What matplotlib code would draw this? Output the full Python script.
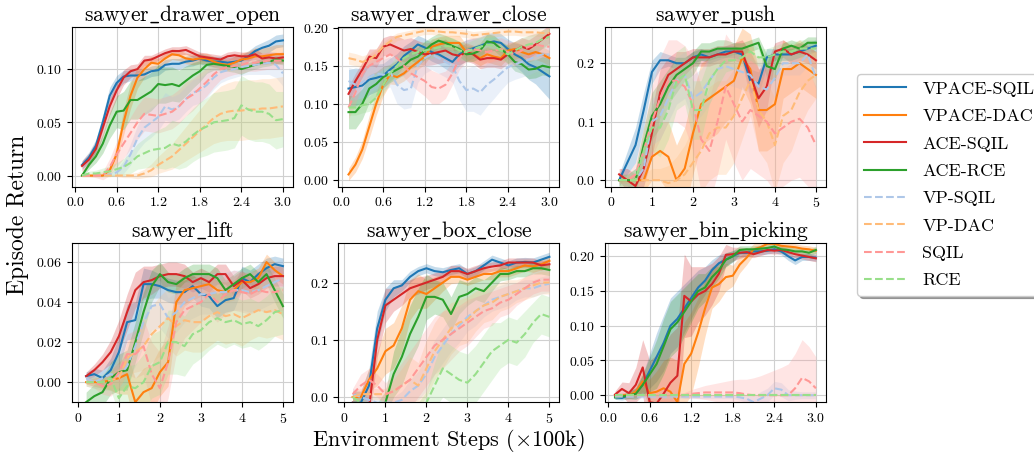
import numpy as np
import matplotlib
matplotlib.use("Agg")
import matplotlib.pyplot as plt

plt.rcParams['font.family'] = 'serif'
plt.rcParams['font.serif'] = ['cmr10']
plt.rcParams['mathtext.fontset'] = 'cm'
plt.rcParams['axes.formatter.use_mathtext'] = True

methods = ["VPACE-SQIL", "VPACE-DAC", "ACE-SQIL", "ACE-RCE", "VP-SQIL", "VP-DAC", "SQIL", "RCE"]
colors = ["tab:blue", "tab:orange", "tab:red", "tab:green", "#aec7e8", "#ffbb78", "#ff9896", "#98df8a"]
styles = ["-", "-", "-", "-", "--", "--", "--", "--"]

tasks = ["sawyer_drawer_open", "sawyer_drawer_close", "sawyer_push",
         "sawyer_lift", "sawyer_box_close", "sawyer_bin_picking"]

# environment steps (x100k)
steps_short = np.round(np.arange(1, 31) * 0.1, 1)
steps_long = np.round(np.arange(1, 26) * 0.2, 1)

# ---------------- sawyer_drawer_open ----------------
drawer_open_mean = [
    [0.010, 0.017, 0.028, 0.050, 0.075, 0.087, 0.093, 0.094, 0.094, 0.095, 0.098, 0.099, 0.104, 0.105, 0.105,
     0.107, 0.108, 0.110, 0.108, 0.107, 0.107, 0.106, 0.107, 0.108, 0.112, 0.117, 0.120, 0.122, 0.126, 0.127],
    [0.000, 0.000, 0.000, 0.000, 0.005, 0.020, 0.050, 0.075, 0.092, 0.100, 0.106, 0.105, 0.110, 0.114, 0.113,
     0.110, 0.109, 0.110, 0.110, 0.107, 0.105, 0.104, 0.106, 0.109, 0.110, 0.112, 0.112, 0.113, 0.114, 0.114],
    [0.009, 0.015, 0.025, 0.045, 0.065, 0.080, 0.092, 0.098, 0.100, 0.108, 0.109, 0.112, 0.115, 0.117, 0.117,
     0.118, 0.115, 0.112, 0.111, 0.110, 0.109, 0.112, 0.113, 0.112, 0.112, 0.114, 0.110, 0.111, 0.110, 0.111],
    [0.000, 0.010, 0.018, 0.030, 0.047, 0.060, 0.061, 0.071, 0.071, 0.075, 0.079, 0.086, 0.085, 0.086, 0.084,
     0.089, 0.094, 0.098, 0.104, 0.105, 0.104, 0.103, 0.102, 0.100, 0.102, 0.104, 0.106, 0.107, 0.109, 0.108],
    [0.000, 0.000, 0.000, 0.000, 0.001, 0.003, 0.008, 0.020, 0.035, 0.045, 0.050, 0.055, 0.065, 0.062, 0.065,
     0.072, 0.078, 0.080, 0.085, 0.092, 0.097, 0.099, 0.100, 0.102, 0.103, 0.104, 0.105, 0.106, 0.104, 0.096],
    [0.000, 0.000, 0.000, 0.000, 0.000, 0.000, 0.000, 0.000, 0.000, 0.002, 0.005, 0.010, 0.014, 0.018, 0.024,
     0.030, 0.036, 0.042, 0.048, 0.054, 0.058, 0.060, 0.061, 0.061, 0.062, 0.062, 0.063, 0.063, 0.064, 0.065],
    [0.000, 0.000, 0.000, 0.000, 0.008, 0.020, 0.030, 0.040, 0.050, 0.058, 0.057, 0.056, 0.058, 0.060, 0.065,
     0.072, 0.076, 0.082, 0.088, 0.095, 0.100, 0.102, 0.103, 0.104, 0.106, 0.106, 0.107, 0.108, 0.108, 0.108],
    [0.000, 0.002, 0.002, 0.003, 0.004, 0.006, 0.008, 0.012, 0.018, 0.021, 0.024, 0.025, 0.026, 0.030, 0.028,
     0.032, 0.038, 0.043, 0.046, 0.050, 0.051, 0.052, 0.054, 0.066, 0.062, 0.060, 0.060, 0.058, 0.052, 0.053],
]
drawer_open_std = [
    [0.004, 0.005, 0.006, 0.007, 0.008, 0.007, 0.006, 0.005, 0.005, 0.005, 0.005, 0.005, 0.005, 0.005, 0.005,
     0.005, 0.005, 0.005, 0.005, 0.005, 0.005, 0.005, 0.005, 0.005, 0.005, 0.005, 0.005, 0.006, 0.006, 0.006],
    [0.001, 0.001, 0.001, 0.001, 0.003, 0.008, 0.012, 0.012, 0.010, 0.008, 0.006, 0.005, 0.005, 0.005, 0.005,
     0.005, 0.005, 0.005, 0.005, 0.005, 0.005, 0.005, 0.006, 0.006, 0.007, 0.008, 0.008, 0.008, 0.009, 0.009],
    [0.005, 0.006, 0.007, 0.008, 0.008, 0.008, 0.007, 0.006, 0.005, 0.005, 0.004, 0.004, 0.004, 0.004, 0.004,
     0.004, 0.004, 0.004, 0.004, 0.004, 0.004, 0.004, 0.004, 0.004, 0.004, 0.005, 0.005, 0.005, 0.005, 0.005],
    [0.001, 0.004, 0.006, 0.009, 0.012, 0.015, 0.018, 0.018, 0.018, 0.018, 0.018, 0.018, 0.017, 0.016, 0.015,
     0.014, 0.012, 0.010, 0.008, 0.006, 0.005, 0.005, 0.005, 0.005, 0.004, 0.004, 0.004, 0.004, 0.004, 0.004],
    [0.001, 0.001, 0.001, 0.001, 0.002, 0.003, 0.006, 0.010, 0.012, 0.014, 0.014, 0.013, 0.013, 0.012, 0.012,
     0.012, 0.012, 0.012, 0.012, 0.011, 0.010, 0.009, 0.008, 0.008, 0.008, 0.009, 0.010, 0.011, 0.012, 0.012],
    [0.001, 0.001, 0.001, 0.001, 0.001, 0.001, 0.002, 0.002, 0.003, 0.004, 0.006, 0.008, 0.010, 0.012, 0.014,
     0.016, 0.018, 0.020, 0.022, 0.024, 0.026, 0.027, 0.028, 0.028, 0.028, 0.028, 0.028, 0.028, 0.028, 0.028],
    [0.001, 0.001, 0.002, 0.004, 0.008, 0.012, 0.014, 0.015, 0.016, 0.016, 0.016, 0.016, 0.016, 0.016, 0.016,
     0.016, 0.015, 0.014, 0.013, 0.012, 0.010, 0.009, 0.008, 0.008, 0.008, 0.008, 0.008, 0.008, 0.008, 0.008],
    [0.001, 0.002, 0.003, 0.004, 0.005, 0.006, 0.008, 0.010, 0.012, 0.014, 0.016, 0.018, 0.020, 0.022, 0.022,
     0.024, 0.025, 0.026, 0.027, 0.028, 0.028, 0.028, 0.028, 0.028, 0.028, 0.028, 0.028, 0.028, 0.027, 0.026],
]

# ---------------- sawyer_drawer_close ----------------
drawer_close_mean = [
    [0.120, 0.122, 0.124, 0.132, 0.134, 0.137, 0.145, 0.152, 0.163, 0.170, 0.178, 0.174, 0.168, 0.165, 0.160,
     0.155, 0.165, 0.170, 0.173, 0.176, 0.180, 0.182, 0.180, 0.172, 0.165, 0.160, 0.152, 0.148, 0.142, 0.136],
    [0.007, 0.020, 0.040, 0.070, 0.100, 0.125, 0.138, 0.135, 0.140, 0.148, 0.155, 0.162, 0.175, 0.178, 0.180,
     0.180, 0.180, 0.168, 0.165, 0.160, 0.165, 0.162, 0.160, 0.170, 0.172, 0.168, 0.165, 0.168, 0.165, 0.160],
    [0.113, 0.130, 0.145, 0.162, 0.160, 0.175, 0.178, 0.174, 0.170, 0.172, 0.168, 0.165, 0.166, 0.168, 0.170,
     0.165, 0.163, 0.168, 0.165, 0.158, 0.160, 0.160, 0.158, 0.165, 0.170, 0.175, 0.172, 0.178, 0.185, 0.192],
    [0.089, 0.089, 0.100, 0.120, 0.126, 0.135, 0.140, 0.145, 0.150, 0.158, 0.162, 0.170, 0.178, 0.183, 0.180,
     0.176, 0.172, 0.165, 0.166, 0.170, 0.182, 0.180, 0.172, 0.165, 0.155, 0.152, 0.145, 0.146, 0.150, 0.148],
    [0.130, 0.125, 0.128, 0.135, 0.140, 0.138, 0.142, 0.125, 0.118, 0.120, 0.150, 0.160, 0.165, 0.160, 0.155,
     0.150, 0.130, 0.118, 0.120, 0.115, 0.125, 0.132, 0.140, 0.148, 0.152, 0.155, 0.158, 0.162, 0.165, 0.165],
    [0.160, 0.158, 0.155, 0.158, 0.165, 0.175, 0.182, 0.188, 0.190, 0.192, 0.194, 0.196, 0.196, 0.195, 0.194,
     0.194, 0.193, 0.192, 0.190, 0.191, 0.192, 0.193, 0.194, 0.195, 0.195, 0.194, 0.194, 0.194, 0.193, 0.193],
    [0.095, 0.115, 0.140, 0.150, 0.155, 0.160, 0.165, 0.160, 0.150, 0.140, 0.135, 0.130, 0.122, 0.120, 0.125,
     0.140, 0.160, 0.170, 0.172, 0.170, 0.168, 0.170, 0.172, 0.168, 0.165, 0.170, 0.175, 0.178, 0.176, 0.175],
    [0.095, 0.095, 0.098, 0.100, 0.108, 0.125, 0.140, 0.150, 0.160, 0.165, 0.168, 0.170, 0.172, 0.174, 0.176,
     0.175, 0.170, 0.168, 0.172, 0.175, 0.178, 0.176, 0.170, 0.165, 0.170, 0.175, 0.178, 0.180, 0.185, 0.188],
]
drawer_close_std = [
    [0.025, 0.025, 0.022, 0.020, 0.018, 0.016, 0.015, 0.014, 0.013, 0.012, 0.012, 0.012, 0.012, 0.013, 0.014,
     0.015, 0.015, 0.014, 0.013, 0.012, 0.012, 0.012, 0.012, 0.013, 0.015, 0.018, 0.020, 0.022, 0.026, 0.030],
    [0.008, 0.010, 0.012, 0.015, 0.015, 0.015, 0.012, 0.010, 0.010, 0.010, 0.010, 0.010, 0.010, 0.010, 0.010,
     0.010, 0.010, 0.010, 0.010, 0.010, 0.010, 0.010, 0.010, 0.010, 0.010, 0.010, 0.010, 0.010, 0.010, 0.010],
    [0.010, 0.010, 0.010, 0.010, 0.012, 0.012, 0.012, 0.015, 0.015, 0.015, 0.015, 0.015, 0.015, 0.015, 0.015,
     0.012, 0.012, 0.012, 0.012, 0.012, 0.012, 0.012, 0.012, 0.012, 0.012, 0.012, 0.012, 0.012, 0.012, 0.012],
    [0.022, 0.022, 0.020, 0.018, 0.016, 0.014, 0.012, 0.012, 0.012, 0.012, 0.012, 0.012, 0.010, 0.010, 0.010,
     0.010, 0.010, 0.010, 0.010, 0.010, 0.010, 0.010, 0.010, 0.012, 0.012, 0.012, 0.012, 0.012, 0.012, 0.012],
    [0.018, 0.020, 0.020, 0.020, 0.020, 0.020, 0.020, 0.025, 0.025, 0.025, 0.022, 0.020, 0.020, 0.020, 0.020,
     0.022, 0.025, 0.028, 0.030, 0.030, 0.028, 0.025, 0.022, 0.020, 0.020, 0.020, 0.020, 0.020, 0.020, 0.020],
    [0.008, 0.008, 0.008, 0.008, 0.008, 0.006, 0.006, 0.005, 0.005, 0.005, 0.005, 0.005, 0.005, 0.005, 0.005,
     0.005, 0.005, 0.005, 0.005, 0.005, 0.005, 0.005, 0.005, 0.005, 0.005, 0.005, 0.005, 0.005, 0.005, 0.005],
    [0.015, 0.015, 0.015, 0.015, 0.015, 0.015, 0.015, 0.015, 0.015, 0.015, 0.018, 0.020, 0.022, 0.020, 0.018,
     0.015, 0.015, 0.015, 0.015, 0.015, 0.015, 0.015, 0.015, 0.015, 0.015, 0.015, 0.015, 0.015, 0.015, 0.015],
    [0.010, 0.010, 0.010, 0.010, 0.010, 0.012, 0.012, 0.012, 0.012, 0.012, 0.012, 0.012, 0.012, 0.012, 0.012,
     0.012, 0.012, 0.012, 0.012, 0.012, 0.012, 0.012, 0.012, 0.012, 0.012, 0.012, 0.012, 0.012, 0.012, 0.012],
]

# ---------------- sawyer_push ----------------
push_mean = [
    [0.000, 0.030, 0.060, 0.120, 0.185, 0.205, 0.205, 0.200, 0.200, 0.210, 0.215, 0.210, 0.215,
     0.220, 0.220, 0.215, 0.170, 0.165, 0.210, 0.215, 0.215, 0.215, 0.220, 0.225, 0.230],
    [0.000, 0.000, 0.000, 0.000, 0.040, 0.050, 0.040, 0.000, 0.020, 0.080, 0.130, 0.140, 0.150,
     0.160, 0.170, 0.210, 0.190, 0.120, 0.120, 0.130, 0.190, 0.190, 0.200, 0.190, 0.180],
    [0.010, 0.000, -0.010, 0.020, 0.080, 0.150, 0.180, 0.190, 0.200, 0.210, 0.210, 0.210, 0.215,
     0.215, 0.220, 0.220, 0.180, 0.140, 0.160, 0.220, 0.225, 0.215, 0.220, 0.215, 0.205],
    [0.000, 0.000, 0.000, 0.060, 0.110, 0.130, 0.160, 0.180, 0.190, 0.200, 0.220, 0.220, 0.225,
     0.225, 0.225, 0.225, 0.230, 0.235, 0.195, 0.190, 0.225, 0.230, 0.225, 0.235, 0.235],
    [0.000, 0.000, 0.000, 0.020, 0.100, 0.110, 0.140, 0.170, 0.180, 0.140, 0.150, 0.170, 0.190,
     0.195, 0.190, 0.185, 0.180, 0.160, 0.155, 0.175, 0.200, 0.200, 0.200, 0.215, 0.175],
    [0.000, 0.000, 0.000, 0.000, 0.000, 0.000, -0.005, 0.000, 0.010, 0.030, 0.050, 0.080, 0.090,
     0.090, 0.110, 0.140, 0.170, 0.120, 0.100, 0.060, 0.110, 0.120, 0.150, 0.170, 0.180],
    [0.000, 0.000, 0.010, 0.050, 0.100, 0.140, 0.170, 0.170, 0.160, 0.130, 0.070, 0.050, 0.100,
     0.160, 0.130, 0.100, 0.120, 0.110, 0.100, 0.080, 0.090, 0.100, 0.105, 0.090, 0.060],
    [0.000, 0.000, 0.000, 0.050, 0.090, 0.090, 0.120, 0.170, 0.180, 0.120, 0.120, 0.170, 0.190,
     0.205, 0.205, 0.210, 0.220, 0.210, 0.210, 0.215, 0.220, 0.220, 0.225, 0.225, 0.225],
]
push_std = [
    [0.010, 0.020, 0.030, 0.030, 0.020, 0.015, 0.010, 0.010, 0.010, 0.010, 0.010, 0.010, 0.010,
     0.010, 0.010, 0.010, 0.020, 0.020, 0.015, 0.010, 0.010, 0.010, 0.010, 0.010, 0.010],
    [0.005, 0.005, 0.010, 0.020, 0.040, 0.050, 0.060, 0.060, 0.070, 0.070, 0.070, 0.070, 0.070,
     0.060, 0.060, 0.050, 0.060, 0.070, 0.070, 0.070, 0.050, 0.040, 0.040, 0.040, 0.040],
    [0.010, 0.020, 0.020, 0.030, 0.040, 0.040, 0.030, 0.030, 0.020, 0.015, 0.015, 0.015, 0.015,
     0.015, 0.015, 0.020, 0.040, 0.050, 0.040, 0.015, 0.015, 0.015, 0.015, 0.015, 0.015],
    [0.010, 0.010, 0.020, 0.030, 0.040, 0.040, 0.030, 0.030, 0.020, 0.020, 0.015, 0.015, 0.015,
     0.015, 0.010, 0.010, 0.010, 0.010, 0.020, 0.020, 0.010, 0.010, 0.010, 0.010, 0.010],
    [0.005, 0.010, 0.020, 0.030, 0.040, 0.040, 0.040, 0.040, 0.040, 0.040, 0.040, 0.040, 0.030,
     0.030, 0.030, 0.030, 0.030, 0.040, 0.040, 0.030, 0.020, 0.020, 0.020, 0.020, 0.020],
    [0.005, 0.005, 0.010, 0.010, 0.020, 0.020, 0.030, 0.040, 0.050, 0.060, 0.070, 0.080, 0.080,
     0.080, 0.080, 0.070, 0.060, 0.070, 0.070, 0.080, 0.080, 0.070, 0.060, 0.050, 0.040],
    [0.010, 0.010, 0.020, 0.040, 0.060, 0.070, 0.070, 0.070, 0.070, 0.080, 0.090, 0.090, 0.090,
     0.090, 0.100, 0.100, 0.100, 0.100, 0.100, 0.100, 0.100, 0.100, 0.100, 0.100, 0.100],
    [0.010, 0.010, 0.020, 0.030, 0.040, 0.050, 0.050, 0.050, 0.050, 0.050, 0.050, 0.040, 0.030,
     0.020, 0.015, 0.015, 0.015, 0.015, 0.015, 0.015, 0.015, 0.015, 0.015, 0.015, 0.015],
]

# ---------------- sawyer_lift ----------------
lift_mean = [
    [0.003, 0.004, 0.002, 0.006, 0.015, 0.030, 0.031, 0.049, 0.049, 0.048, 0.046, 0.045, 0.045,
     0.048, 0.044, 0.043, 0.038, 0.041, 0.042, 0.052, 0.050, 0.054, 0.057, 0.059, 0.058],
    [0.000, 0.000, 0.000, 0.001, 0.002, 0.004, -0.010, -0.005, -0.003, 0.005, 0.010, 0.040, 0.046,
     0.047, 0.048, 0.049, 0.046, 0.045, 0.046, 0.050, 0.050, 0.052, 0.060, 0.056, 0.053],
    [0.003, 0.006, 0.010, 0.015, 0.023, 0.035, 0.046, 0.050, 0.051, 0.053, 0.054, 0.054, 0.053,
     0.050, 0.052, 0.050, 0.054, 0.054, 0.048, 0.051, 0.047, 0.049, 0.052, 0.053, 0.053],
    [-0.010, -0.007, -0.005, 0.002, 0.005, 0.006, 0.020, 0.035, 0.048, 0.054, 0.050, 0.049, 0.052,
     0.054, 0.054, 0.054, 0.052, 0.046, 0.049, 0.052, 0.054, 0.050, 0.054, 0.046, 0.038],
    [0.002, 0.000, 0.002, 0.004, 0.003, 0.008, 0.018, 0.030, 0.038, 0.039, 0.032, 0.035, 0.040,
     0.042, 0.044, 0.044, 0.045, 0.045, 0.046, 0.046, 0.045, 0.046, 0.048, 0.050, 0.052],
    [0.000, 0.000, 0.000, 0.001, 0.002, 0.012, 0.015, 0.018, 0.024, 0.028, 0.032, 0.028, 0.031,
     0.030, 0.030, 0.033, 0.035, 0.033, 0.034, 0.032, 0.034, 0.036, 0.035, 0.036, 0.034],
    [0.000, 0.000, -0.002, -0.001, 0.005, 0.014, 0.014, 0.018, 0.004, -0.003, 0.010, 0.030, 0.036,
     0.038, 0.040, 0.044, 0.040, 0.044, 0.046, 0.045, 0.044, 0.046, 0.045, 0.045, 0.046],
    [0.000, 0.000, 0.000, 0.002, -0.008, -0.002, -0.003, 0.000, 0.008, 0.010, 0.020, 0.020, 0.018,
     0.024, 0.026, 0.030, 0.032, 0.030, 0.031, 0.029, 0.030, 0.028, 0.031, 0.035, 0.036],
]
lift_std = [
    [0.002, 0.003, 0.004, 0.006, 0.008, 0.009, 0.009, 0.008, 0.007, 0.006, 0.006, 0.006, 0.006,
     0.006, 0.006, 0.006, 0.006, 0.006, 0.006, 0.006, 0.006, 0.005, 0.005, 0.004, 0.004],
    [0.001, 0.002, 0.003, 0.005, 0.008, 0.010, 0.012, 0.012, 0.012, 0.012, 0.012, 0.010, 0.008,
     0.006, 0.005, 0.005, 0.005, 0.005, 0.005, 0.005, 0.005, 0.005, 0.004, 0.004, 0.004],
    [0.002, 0.003, 0.004, 0.006, 0.008, 0.009, 0.009, 0.008, 0.007, 0.006, 0.006, 0.006, 0.006,
     0.005, 0.005, 0.005, 0.005, 0.005, 0.005, 0.005, 0.005, 0.005, 0.005, 0.005, 0.005],
    [0.005, 0.006, 0.007, 0.008, 0.009, 0.010, 0.010, 0.010, 0.008, 0.006, 0.005, 0.005, 0.005,
     0.005, 0.005, 0.005, 0.005, 0.005, 0.005, 0.005, 0.005, 0.005, 0.005, 0.006, 0.006],
    [0.002, 0.003, 0.004, 0.005, 0.006, 0.008, 0.010, 0.012, 0.012, 0.012, 0.010, 0.010, 0.010,
     0.010, 0.010, 0.010, 0.010, 0.010, 0.010, 0.010, 0.010, 0.010, 0.010, 0.010, 0.010],
    [0.001, 0.002, 0.003, 0.004, 0.005, 0.008, 0.010, 0.012, 0.014, 0.015, 0.015, 0.015, 0.015,
     0.015, 0.015, 0.015, 0.014, 0.014, 0.014, 0.014, 0.013, 0.013, 0.013, 0.013, 0.013],
    [0.002, 0.003, 0.004, 0.006, 0.008, 0.010, 0.012, 0.014, 0.016, 0.018, 0.018, 0.016, 0.014,
     0.012, 0.010, 0.010, 0.010, 0.010, 0.010, 0.010, 0.010, 0.010, 0.010, 0.010, 0.010],
    [0.002, 0.003, 0.004, 0.006, 0.008, 0.010, 0.012, 0.014, 0.016, 0.016, 0.016, 0.016, 0.015,
     0.015, 0.014, 0.014, 0.013, 0.013, 0.012, 0.012, 0.012, 0.012, 0.012, 0.012, 0.012],
]

# ---------------- sawyer_box_close ----------------
box_close_mean = [
    [-0.010, -0.010, 0.020, 0.120, 0.170, 0.190, 0.195, 0.210, 0.220, 0.225, 0.220, 0.218, 0.222,
     0.225, 0.215, 0.220, 0.230, 0.240, 0.235, 0.230, 0.235, 0.236, 0.235, 0.240, 0.245],
    [0.000, 0.000, 0.030, 0.050, 0.080, 0.090, 0.120, 0.170, 0.185, 0.180, 0.190, 0.200, 0.210,
     0.210, 0.205, 0.210, 0.215, 0.215, 0.220, 0.220, 0.225, 0.230, 0.228, 0.232, 0.238],
    [-0.010, -0.020, -0.020, 0.100, 0.160, 0.170, 0.180, 0.190, 0.195, 0.200, 0.205, 0.210, 0.220,
     0.220, 0.215, 0.220, 0.225, 0.228, 0.230, 0.235, 0.235, 0.235, 0.235, 0.230, 0.232],
    [-0.020, -0.020, -0.020, -0.020, -0.010, 0.040, 0.070, 0.110, 0.140, 0.175, 0.175, 0.170, 0.145,
     0.175, 0.180, 0.190, 0.185, 0.200, 0.215, 0.215, 0.220, 0.220, 0.225, 0.225, 0.222],
    [0.005, 0.000, -0.005, -0.010, -0.010, -0.010, -0.005, 0.010, 0.020, 0.040, 0.070, 0.090, 0.110,
     0.125, 0.140, 0.150, 0.160, 0.170, 0.175, 0.180, 0.185, 0.190, 0.190, 0.195, 0.198],
    [0.000, 0.005, 0.005, 0.005, 0.005, 0.010, 0.020, 0.030, 0.020, 0.050, 0.080, 0.100, 0.120,
     0.130, 0.135, 0.150, 0.160, 0.165, 0.175, 0.180, 0.185, 0.190, 0.195, 0.200, 0.200],
    [0.005, 0.020, 0.030, 0.020, 0.005, 0.010, 0.020, 0.030, 0.050, 0.070, 0.090, 0.100, 0.110,
     0.120, 0.130, 0.140, 0.150, 0.155, 0.165, 0.170, 0.180, 0.190, 0.200, 0.205, 0.205],
    [0.000, -0.010, -0.020, -0.020, -0.020, -0.020, -0.020, -0.020, -0.020, -0.010, 0.020, 0.050, 0.040,
     0.030, 0.025, 0.040, 0.060, 0.080, 0.090, 0.100, 0.095, 0.110, 0.130, 0.145, 0.140],
]
box_close_std = [
    [0.020, 0.020, 0.030, 0.030, 0.020, 0.015, 0.010, 0.010, 0.008, 0.008, 0.008, 0.008, 0.008,
     0.008, 0.008, 0.008, 0.008, 0.008, 0.008, 0.008, 0.008, 0.008, 0.008, 0.008, 0.008],
    [0.010, 0.010, 0.020, 0.030, 0.040, 0.040, 0.040, 0.035, 0.030, 0.025, 0.020, 0.015, 0.012,
     0.010, 0.010, 0.010, 0.010, 0.010, 0.010, 0.010, 0.010, 0.010, 0.010, 0.010, 0.010],
    [0.020, 0.020, 0.030, 0.030, 0.030, 0.020, 0.020, 0.015, 0.015, 0.012, 0.012, 0.010, 0.010,
     0.010, 0.010, 0.010, 0.008, 0.008, 0.008, 0.008, 0.008, 0.008, 0.008, 0.008, 0.008],
    [0.010, 0.010, 0.010, 0.010, 0.020, 0.040, 0.050, 0.050, 0.050, 0.040, 0.030, 0.030, 0.030,
     0.030, 0.020, 0.020, 0.020, 0.015, 0.012, 0.010, 0.010, 0.010, 0.010, 0.010, 0.010],
    [0.010, 0.010, 0.010, 0.010, 0.010, 0.010, 0.015, 0.020, 0.025, 0.030, 0.030, 0.030, 0.030,
     0.030, 0.025, 0.025, 0.020, 0.020, 0.020, 0.020, 0.015, 0.015, 0.015, 0.015, 0.015],
    [0.010, 0.010, 0.010, 0.010, 0.010, 0.020, 0.030, 0.040, 0.040, 0.050, 0.050, 0.050, 0.045,
     0.040, 0.040, 0.035, 0.030, 0.030, 0.025, 0.025, 0.020, 0.020, 0.020, 0.020, 0.020],
    [0.010, 0.020, 0.020, 0.020, 0.020, 0.030, 0.040, 0.050, 0.050, 0.050, 0.050, 0.050, 0.045,
     0.040, 0.040, 0.035, 0.030, 0.030, 0.025, 0.025, 0.020, 0.020, 0.020, 0.020, 0.020],
    [0.010, 0.010, 0.010, 0.010, 0.010, 0.010, 0.010, 0.010, 0.010, 0.020, 0.040, 0.050, 0.050,
     0.050, 0.050, 0.050, 0.050, 0.050, 0.040, 0.040, 0.040, 0.040, 0.035, 0.035, 0.035],
]

# ---------------- sawyer_bin_picking ----------------
bin_picking_mean = [
    [-0.003, -0.004, 0.000, 0.003, 0.015, 0.035, 0.055, 0.075, 0.100, 0.110, 0.125, 0.140, 0.155, 0.165, 0.180,
     0.190, 0.195, 0.200, 0.205, 0.205, 0.207, 0.207, 0.208, 0.210, 0.207, 0.200, 0.194, 0.199, 0.199, 0.198],
    [0.000, 0.000, 0.000, 0.005, 0.020, 0.003, 0.005, 0.010, 0.005, -0.010, 0.045, 0.060, 0.090, 0.125, 0.155,
     0.160, 0.170, 0.172, 0.188, 0.198, 0.210, 0.213, 0.218, 0.218, 0.215, 0.214, 0.213, 0.211, 0.210, 0.208],
    [0.001, 0.009, 0.003, 0.015, 0.040, -0.010, -0.012, 0.002, 0.018, 0.028, 0.143, 0.135, 0.145, 0.150, 0.160,
     0.175, 0.202, 0.203, 0.205, 0.206, 0.203, 0.206, 0.209, 0.208, 0.209, 0.206, 0.203, 0.201, 0.199, 0.197],
    [-0.003, -0.002, 0.000, 0.002, 0.015, 0.030, 0.045, 0.070, 0.095, 0.105, 0.120, 0.135, 0.150, 0.155, 0.170,
     0.180, 0.195, 0.200, 0.209, 0.210, 0.210, 0.211, 0.212, 0.214, 0.210, 0.209, 0.207, 0.207, 0.205, 0.209],
    [-0.002, -0.002, -0.002, -0.002, -0.002, -0.002, -0.002, -0.002, -0.002, -0.002, -0.002, -0.002, -0.002, -0.002, -0.002,
     -0.002, -0.002, -0.002, -0.003, -0.005, -0.010, -0.005, 0.000, 0.010, 0.008, 0.000, 0.000, 0.000, 0.000, 0.000],
    [0.000, 0.000, 0.000, 0.000, 0.000, 0.000, 0.000, 0.000, 0.000, 0.000, 0.000, 0.000, 0.000, 0.000, 0.000,
     0.000, 0.000, 0.000, 0.000, 0.000, 0.000, 0.000, 0.000, 0.000, 0.000, 0.000, 0.000, 0.000, 0.000, 0.000],
    [0.000, 0.000, 0.000, 0.000, 0.000, 0.000, 0.000, 0.000, 0.000, 0.000, 0.000, 0.002, 0.003, 0.004, 0.004,
     0.004, 0.004, 0.004, 0.003, 0.001, 0.000, 0.000, 0.000, 0.000, 0.000, 0.000, 0.010, 0.025, 0.020, 0.010],
    [0.000, 0.000, 0.000, 0.000, 0.000, 0.000, 0.000, 0.000, 0.000, 0.000, 0.000, 0.000, 0.000, 0.000, 0.000,
     0.000, 0.000, 0.000, 0.000, 0.000, 0.000, 0.000, 0.000, 0.000, 0.000, 0.000, 0.000, 0.000, 0.000, 0.000],
]
bin_picking_std = [
    [0.003, 0.003, 0.005, 0.008, 0.015, 0.025, 0.035, 0.040, 0.040, 0.040, 0.035, 0.030, 0.025, 0.020, 0.015,
     0.012, 0.010, 0.008, 0.006, 0.005, 0.005, 0.005, 0.005, 0.005, 0.005, 0.006, 0.006, 0.005, 0.005, 0.005],
    [0.003, 0.003, 0.005, 0.008, 0.015, 0.020, 0.030, 0.040, 0.050, 0.060, 0.060, 0.060, 0.050, 0.040, 0.030,
     0.025, 0.020, 0.015, 0.012, 0.010, 0.008, 0.006, 0.005, 0.005, 0.005, 0.005, 0.005, 0.005, 0.005, 0.005],
    [0.005, 0.010, 0.015, 0.025, 0.040, 0.060, 0.070, 0.070, 0.070, 0.070, 0.060, 0.050, 0.040, 0.035, 0.030,
     0.025, 0.015, 0.010, 0.008, 0.006, 0.005, 0.005, 0.005, 0.005, 0.005, 0.005, 0.005, 0.005, 0.005, 0.005],
    [0.003, 0.003, 0.005, 0.008, 0.015, 0.025, 0.035, 0.040, 0.040, 0.040, 0.035, 0.030, 0.025, 0.020, 0.015,
     0.012, 0.010, 0.008, 0.006, 0.005, 0.005, 0.005, 0.005, 0.005, 0.005, 0.005, 0.005, 0.005, 0.005, 0.005],
    [0.003, 0.003, 0.003, 0.003, 0.003, 0.003, 0.003, 0.003, 0.003, 0.003, 0.003, 0.003, 0.003, 0.003, 0.003,
     0.003, 0.003, 0.003, 0.004, 0.006, 0.008, 0.010, 0.010, 0.010, 0.010, 0.008, 0.006, 0.005, 0.005, 0.005],
    [0.001, 0.001, 0.001, 0.001, 0.001, 0.001, 0.001, 0.001, 0.001, 0.001, 0.001, 0.001, 0.001, 0.001, 0.001,
     0.001, 0.001, 0.001, 0.001, 0.001, 0.001, 0.001, 0.001, 0.001, 0.001, 0.001, 0.001, 0.001, 0.001, 0.001],
    [0.001, 0.001, 0.001, 0.001, 0.001, 0.001, 0.001, 0.001, 0.001, 0.002, 0.004, 0.006, 0.008, 0.010, 0.012,
     0.014, 0.016, 0.018, 0.020, 0.022, 0.025, 0.028, 0.032, 0.036, 0.040, 0.045, 0.050, 0.055, 0.050, 0.045],
    [0.001, 0.001, 0.001, 0.001, 0.001, 0.001, 0.001, 0.001, 0.001, 0.001, 0.001, 0.001, 0.001, 0.001, 0.001,
     0.001, 0.001, 0.001, 0.001, 0.001, 0.001, 0.001, 0.001, 0.001, 0.001, 0.001, 0.001, 0.001, 0.001, 0.001],
]

panels = [
    (drawer_open_mean, drawer_open_std, steps_short),
    (drawer_close_mean, drawer_close_std, steps_short),
    (push_mean, push_std, steps_long),
    (lift_mean, lift_std, steps_long),
    (box_close_mean, box_close_std, steps_long),
    (bin_picking_mean, bin_picking_std, steps_short),
]
ylims = [(-0.0104, 0.1396), (-0.009, 0.201), (-0.011, 0.262),
         (-0.010, 0.0698), (-0.009, 0.270), (-0.010, 0.2198)]
yticks = [[0, 0.05, 0.10], [0, 0.05, 0.10, 0.15, 0.20], [0, 0.1, 0.2],
          [0, 0.02, 0.04, 0.06], [0, 0.1, 0.2], [0, 0.05, 0.10, 0.15, 0.20]]

fig, axes = plt.subplots(2, 3, figsize=(10.34, 4.57), dpi=100)
fig.subplots_adjust(left=0.0696, right=0.7988, top=0.941, bottom=0.120, wspace=0.206, hspace=0.35)

for ax, task, (means, stds, x), ylim, yt in zip(axes.flat, tasks, panels, ylims, yticks):
    ax.grid(True, color='#d0d0d0', linewidth=0.8)
    ax.set_axisbelow(True)
    for m, s, c, ls, name in zip(means, stds, colors, styles, methods):
        m = np.array(m)
        s = np.array(s)
        ax.fill_between(x, m - s, m + s, color=c, alpha=0.25, linewidth=0)
        ax.plot(x, m, color=c, linestyle=ls, linewidth=1.5, label=name)
    # underscores via mathtext (cmr10 has no underscore glyph)
    ax.set_title(r"$\mathrm{" + task.replace("_", r"\_") + "}$", fontsize=15.5, pad=4)
    ax.set_ylim(*ylim)
    ax.set_yticks(yt)
    if x[-1] > 4:
        ax.set_xlim(-0.145, 5.245)
        ax.set_xticks([0, 1, 2, 3, 4, 5])
    else:
        ax.set_xlim(-0.045, 3.145)
        ax.set_xticks([0, 0.6, 1.2, 1.8, 2.4, 3.0])
    ax.tick_params(labelsize=10)

fig.text(0.017, 0.53, "Episode Return", rotation=90, ha='center', va='center', fontsize=17)
fig.text(0.434, 0.037, r"Environment Steps ($\times$100k)", ha='center', va='center', fontsize=16)

handles, labels = axes[0, 0].get_legend_handles_labels()
fig.legend(handles, labels, loc='upper left', bbox_to_anchor=(0.8203, 0.858), fontsize=13,
           shadow=True, handlelength=2.3, handletextpad=0.9, labelspacing=0.65)

fig.savefig("out.png", dpi=100)
